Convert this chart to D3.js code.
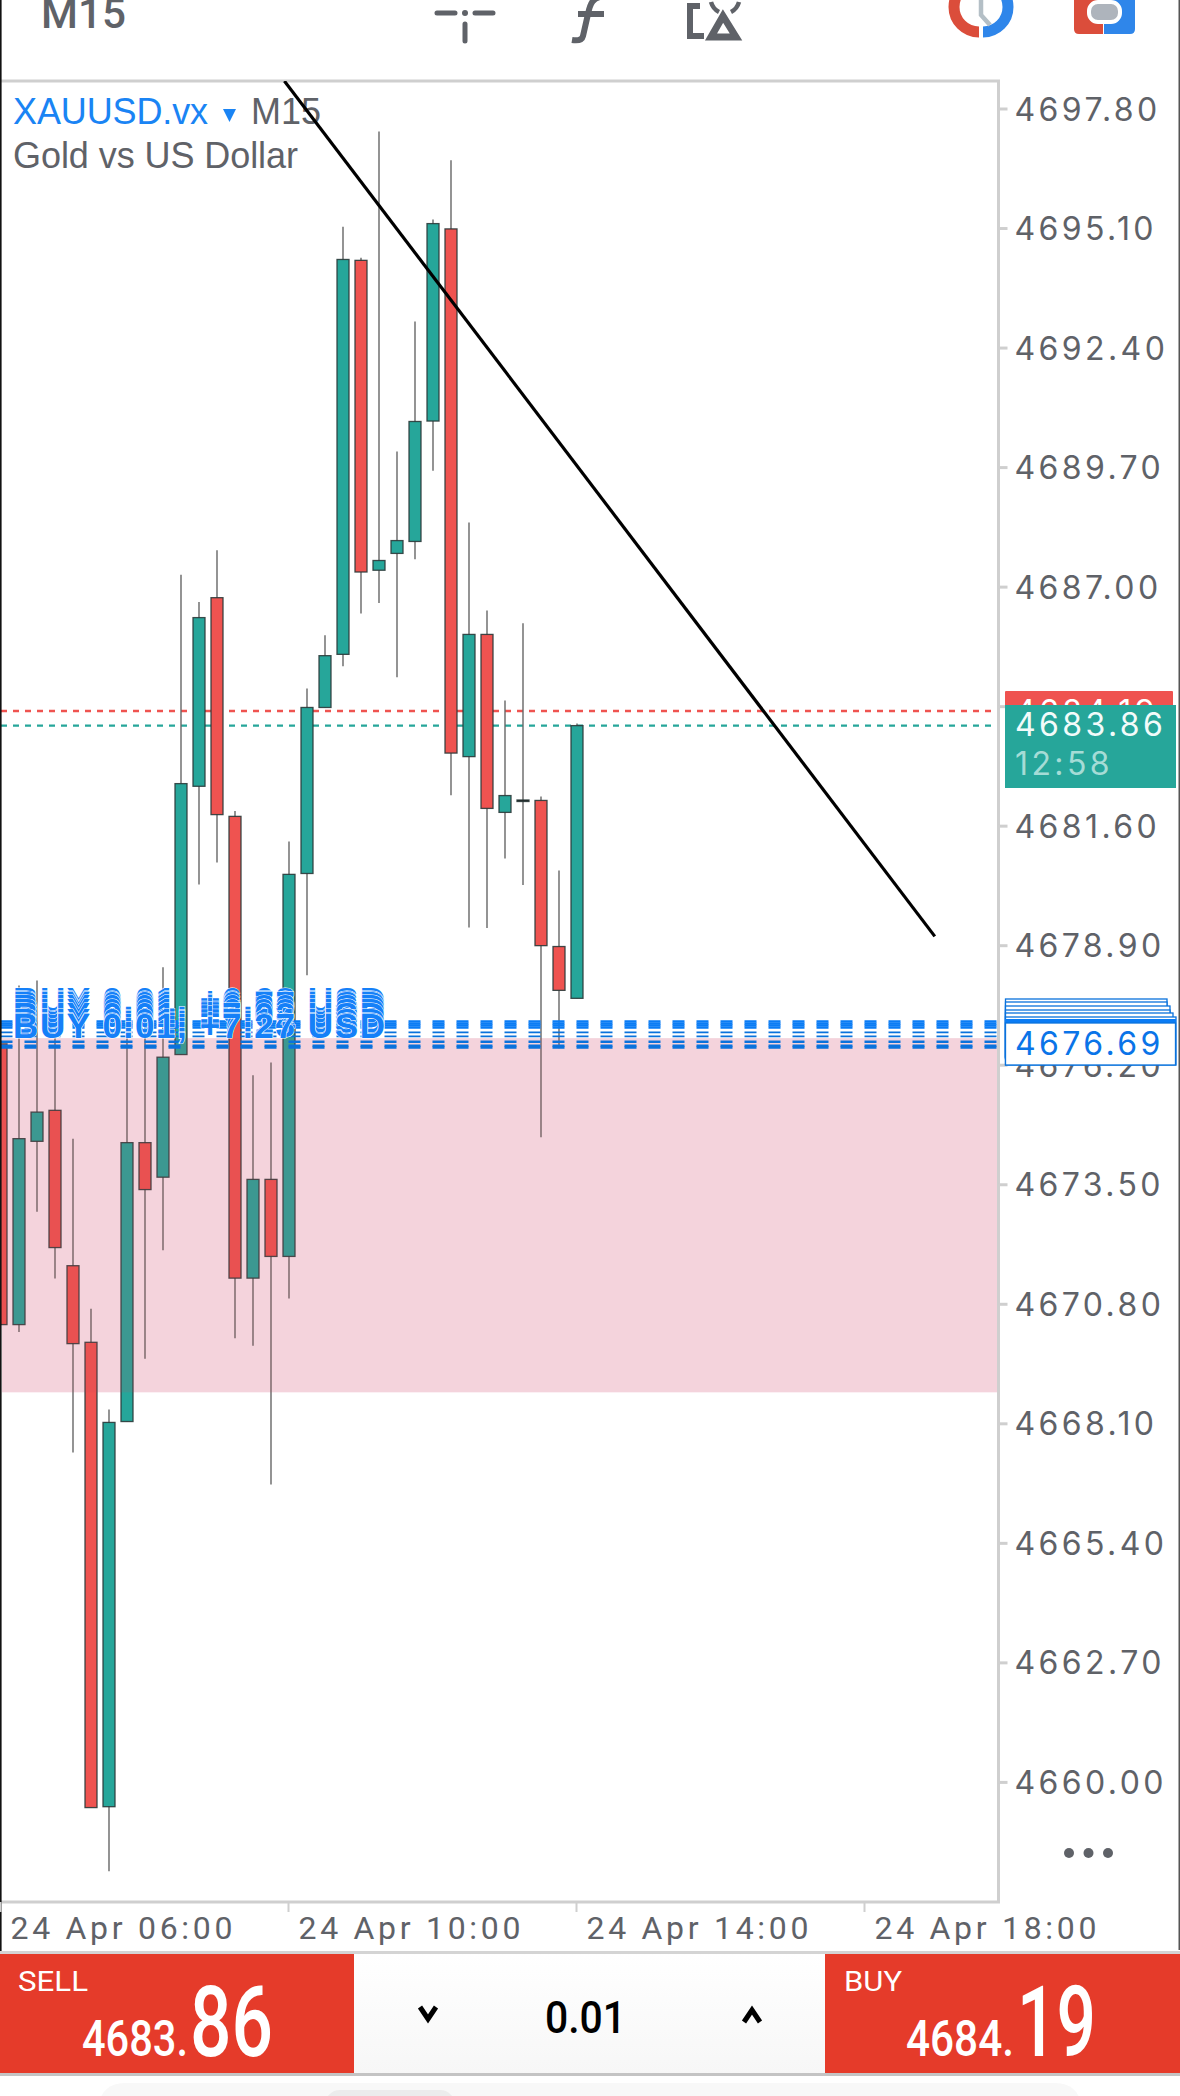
<!DOCTYPE html>
<html><head><meta charset="utf-8">
<script src="https://cdn.jsdelivr.net/npm/d3@7/dist/d3.min.js"></script>
<style>html,body{margin:0;padding:0;background:#fff;overflow:hidden}svg{display:block}</style>
</head><body><svg id="c" width="1180" height="2096"></svg>
<script>
const symbolName = "XAUUSD.vx", timeframe = "M15", description = "Gold vs US Dollar";
const priceTicks = [4697.8,4695.1,4692.4,4689.7,4687.0,4684.3,4681.6,4678.9,4676.2,4673.5,4670.8,4668.1,4665.4,4662.7,4660.0];
const timeTicks = ["2026-04-24T06:00Z","2026-04-24T10:00Z","2026-04-24T14:00Z","2026-04-24T18:00Z"];
const bid = 4683.86, ask = 4684.19, countdown = "12:58", lot = "0.01";
const zoneTop = 4676.80, zoneBottom = 4668.80;
const trendLine = [["2026-04-24T09:57Z",4698.42],["2026-04-24T18:59Z",4679.10]];
const candleOpen = [4676.67,4670.33,4674.47,4675.17,4671.66,4669.93,4659.44,4668.14,4674.44,4673.66,4676.43,4682.49,4686.75,4681.81,4671.38,4673.61,4671.87,4680.52,4684.27,4685.47,4694.37,4687.37,4687.75,4688.02,4690.74,4695.08,4683.16,4685.92,4681.90,4682.18,4682.17,4678.87,4677.70];
const candleHigh = [4676.67,4677.99,4678.10,4677.09,4674.53,4670.69,4668.41,4677.20,4677.09,4678.40,4687.27,4686.65,4687.82,4681.93,4675.96,4676.25,4681.24,4684.70,4685.90,4695.13,4694.43,4697.28,4690.05,4692.99,4695.29,4696.63,4688.45,4686.46,4684.43,4686.17,4682.26,4680.59,4683.91];
const candleLow = [4670.33,4670.16,4672.88,4671.37,4667.44,4659.42,4657.98,4668.14,4669.56,4672.01,4676.43,4680.27,4680.77,4670.02,4669.85,4666.72,4670.92,4678.22,4684.27,4685.20,4686.39,4686.63,4684.95,4687.62,4689.62,4682.29,4679.30,4679.29,4680.86,4680.26,4674.56,4676.57,4677.70];
const candleClose = [4670.33,4674.53,4675.13,4672.07,4669.90,4659.42,4668.12,4674.44,4673.38,4676.37,4682.55,4686.30,4681.85,4671.38,4673.61,4671.87,4680.50,4684.27,4685.44,4694.39,4687.33,4687.59,4688.04,4690.73,4695.20,4683.24,4685.92,4681.99,4682.28,4682.18,4678.89,4677.88,4683.86];
const orderPrices = [4677.18,4677.13,4677.09,4677.04,4676.93,4676.84,4676.72,4676.63,4676.59];
const orderProfits = ["+6.68","+6.73","+6.77","+6.82","+6.93","+7.02","+7.14","+7.23","+7.27"];
const firstCandle = "2026-04-24T06:00Z";

const GREEN="#26a69a", RED="#ef5350", BLUE="#0a7cf5", GRAY="#5f6268", FRAME="#cfcfcf";
const svg = d3.select("#c");
const parse = s => new Date(s);
const y = d3.scaleLinear().domain([4697.8,4660]).range([108.5,1781.9]);
const x = d3.scaleUtc().domain([parse(firstCandle), parse(timeTicks[3])]).range([0,864]);
const candleTime = candleOpen.map((_,i)=> d3.utcMinute.offset(parse(firstCandle), 15*i));
const cx = i => x(candleTime[i]) + 1;
const R = 998.5, T = 81, B = 1902;

svg.append("rect").attr("width",1180).attr("height",2096).attr("fill","#fff");
const defs = svg.append("defs");
defs.append("clipPath").attr("id","plot").append("rect").attr("x",0).attr("y",T).attr("width",R).attr("height",B-T);
const plot = svg.append("g").attr("clip-path","url(#plot)");

// bid / ask lines
[[ask,RED],[bid,GREEN]].forEach(([p,c])=>{
  plot.append("line").attr("x1",1).attr("x2",R).attr("y1",y(p)).attr("y2",y(p))
    .attr("stroke",c).attr("stroke-width",2.4).attr("stroke-dasharray","6 6");
});

// pink zone base, below the candles
plot.append("rect").attr("x",2).attr("width",R-2).attr("y",y(zoneTop)).attr("height",y(zoneBottom)-y(zoneTop))
  .attr("fill","#fceaf1");

// candles
const g = plot.selectAll("g.k").data(candleOpen.map((o,i)=>({i,o,h:candleHigh[i],l:candleLow[i],c:candleClose[i]}))).join("g").attr("class","k");
g.append("line").attr("x1",d=>cx(d.i)).attr("x2",d=>cx(d.i)).attr("y1",d=>y(d.h)).attr("y2",d=>y(d.l))
  .attr("stroke","#666").attr("stroke-width",1.4);
g.append("rect").attr("x",d=>cx(d.i)-6).attr("width",12)
  .attr("y",d=>y(Math.max(d.o,d.c))).attr("height",d=>Math.max(1.5,y(Math.min(d.o,d.c))-y(Math.max(d.o,d.c))))
  .attr("fill",d=>d.c>d.o?GREEN:(d.c<d.o?RED:"#111"))
  .attr("stroke","#2b3a3a").attr("stroke-opacity",.9).attr("stroke-width",1.3);

// pink zone veil, over the candles
plot.append("rect").attr("x",2).attr("width",R-2).attr("y",y(zoneTop)).attr("height",y(zoneBottom)-y(zoneTop))
  .attr("fill","#c84a5a").attr("fill-opacity",.14);

// order lines
plot.selectAll("line.o").data(orderPrices).join("line").attr("class","o")
  .attr("x1",0.5).attr("x2",R).attr("y1",d=>y(d)).attr("y2",d=>y(d))
  .attr("stroke",(d,i)=>i<4?BLUE:"#0a72dc").attr("stroke-width",(d,i)=>i<4?2.4:(i>5?2.6:1.6)).attr("stroke-dasharray","12 12");

// order labels
plot.selectAll("text.o").data(orderPrices).join("text").attr("class","o")
  .attr("x",13).attr("y",d=>y(d)-9).text((d,i)=>`BUY ${lot}, ${orderProfits[i]} USD`)
  .attr("font-family","Liberation Sans").attr("font-weight",700).attr("font-size",35).attr("fill","#1580f8")
  .attr("stroke","#fff").attr("stroke-width",1).attr("paint-order","stroke")
  .attr("textLength",372).attr("lengthAdjust","spacing");

// frame
svg.append("path").attr("d",`M0 ${T}H${R}V${B}H0`).attr("fill","none").attr("stroke",FRAME).attr("stroke-width",3);
svg.append("rect").attr("x",0).attr("y",0).attr("width",1.6).attr("height",2075).attr("fill","#111");
svg.append("rect").attr("x",1178.5).attr("y",0).attr("width",1.5).attr("height",1950).attr("fill","#555");

// price axis
const yAxis = d3.axisRight(y).tickValues(priceTicks).tickSize(9).tickPadding(7).tickFormat(d3.format(".2f"));
const ya = svg.append("g").attr("transform",`translate(${R},0)`).call(yAxis);
ya.select(".domain").remove();
ya.selectAll("line").attr("stroke",FRAME).attr("stroke-width",3);
ya.selectAll("text").attr("font-family","Inter").attr("font-size",32).attr("fill",GRAY)
  .attr("letter-spacing",3.4).attr("dy","0.36em");

// time axis
const xAxis = d3.axisBottom(x).tickValues(timeTicks.map(parse)).tickSize(10).tickPadding(0).tickFormat(d3.utcFormat("24 Apr %H:%M"));
const xa = svg.append("g").attr("transform",`translate(0,${B})`).call(xAxis);
xa.select(".domain").remove();
xa.selectAll("line").attr("stroke",FRAME).attr("stroke-width",2);
xa.selectAll("text").attr("font-family","Roboto").attr("font-size",32).attr("fill",GRAY)
  .attr("text-anchor","start").attr("x",10).attr("y",37).attr("dy",0)
  .attr("textLength",222).attr("lengthAdjust","spacing");

// right hand price tags
const tag = svg.append("g");
const tagFont = s => s.attr("font-family","Inter").attr("font-size",32).attr("letter-spacing",3.4);
tag.append("rect").attr("x",1005).attr("y",691).attr("width",168).attr("height",30).attr("fill",RED).attr("rx",1);
tag.append("text").attr("x",1015).attr("y",723).text(d3.format(".2f")(ask)).call(tagFont).attr("fill","#fff");
tag.append("rect").attr("x",1005).attr("y",705).attr("width",171).attr("height",83).attr("fill",GREEN);
tag.append("text").attr("x",1015).attr("y",736).text(d3.format(".2f")(bid)).call(tagFont).attr("fill","#f2fbfa");
tag.append("text").attr("x",1015).attr("y",775).text(countdown).call(tagFont).attr("fill","#a5dcd6");
const stack = [[999,1167,58],[1002,1167,55],[1006,1170,52],[1010,1170,48],[1013,1173,46],[1017,1176,48]];
stack.forEach(([t,r,h])=>{
  tag.append("rect").attr("x",1005.5).attr("y",t).attr("width",r-1005.5).attr("height",h).attr("fill","#fff").attr("stroke","#0a72dc").attr("stroke-width",1.3);
});
tag.append("rect").attr("x",1005).attr("y",1019).attr("width",171).attr("height",4).attr("fill",BLUE);
tag.append("rect").attr("x",1005.5).attr("y",1023).attr("width",170).attr("height",42).attr("fill","#fff").attr("stroke","#0a72dc").attr("stroke-width",1.3);
tag.append("text").attr("x",1015).attr("y",1055).text("4676.69").call(tagFont).attr("fill","#0a74e8");
[1069,1088.5,1108].forEach(c=>svg.append("circle").attr("cx",c).attr("cy",1853).attr("r",5).attr("fill",GRAY));

// legend
const lg = svg.append("g").attr("font-family","Liberation Sans");
lg.append("text").attr("x",13).attr("y",124).text(symbolName).attr("font-size",36).attr("fill","#1a84f4").attr("textLength",195);
lg.append("path").attr("d","M223 109H236L229.5 122Z").attr("fill","#1a84f4");
lg.append("text").attr("x",251).attr("y",124).text(timeframe).attr("font-size",36).attr("fill",GRAY).attr("textLength",70);
lg.append("text").attr("x",13).attr("y",168).text(description).attr("font-size",36).attr("fill",GRAY).attr("textLength",285);

// trend line, over the candles and the legend
svg.append("line").attr("x1",x(parse(trendLine[0][0]))).attr("y1",y(trendLine[0][1]))
  .attr("x2",x(parse(trendLine[1][0]))).attr("y2",y(trendLine[1][1]))
  .attr("stroke","#000").attr("stroke-width",3.2).attr("clip-path","url(#plot)");

// top toolbar
const tb = svg.append("g");
tb.append("text").attr("x",41).attr("y",28).text(timeframe).attr("font-family","Roboto").attr("font-weight",500).attr("font-size",42).attr("fill",GRAY).attr("textLength",85).attr("lengthAdjust","spacingAndGlyphs");
tb.append("path").attr("d","M437 13H455M475 13H493M465 24V41").attr("stroke",GRAY).attr("stroke-width",5).attr("stroke-linecap","round").attr("fill","none");
tb.append("circle").attr("cx",465).attr("cy",13).attr("r",3).attr("fill",GRAY);
tb.append("path").attr("d","M608 -4C592 -4 590 4 588 14L583 36C582 40 578 41 572 40M578 14H604").attr("stroke",GRAY).attr("stroke-width",6).attr("fill","none");
tb.append("path").attr("d","M700 6H690V36H704").attr("stroke",GRAY).attr("stroke-width",6).attr("fill","none");
tb.append("path").attr("d","M711 37L723 16L736 37Z").attr("stroke",GRAY).attr("stroke-width",7).attr("fill","none");
tb.append("path").attr("d","M711 2Q713 9 719 12M739 2Q737 9 731 12").attr("stroke",GRAY).attr("stroke-width",4.5).attr("fill","none");
tb.append("path").attr("d","M979 32A25 25 0 0 1 979 -18").attr("stroke","#db4d3b").attr("stroke-width",11).attr("fill","none");
tb.append("path").attr("d","M983 -18A25 25 0 0 1 983 32").attr("stroke","#2f86ea").attr("stroke-width",11).attr("fill","none");
tb.append("path").attr("d","M981 0V15L990 25").attr("stroke","#b4bfc6").attr("stroke-width",4.5).attr("fill","none");
tb.append("path").attr("d","M1074 -5H1103V34H1079Q1074 34 1074 29Z").attr("fill","#db4d3b");
tb.append("path").attr("d","M1104 -5H1135V29Q1135 34 1130 34H1104Z").attr("fill","#2f86ea");
tb.append("rect").attr("x",1089).attr("y",2).attr("width",31).attr("height",20).attr("rx",9).attr("fill","#aeb4bc").attr("stroke","#fff").attr("stroke-width",4);

// trade panel
const p = svg.append("g");
const grad = defs.append("linearGradient").attr("id","pg").attr("x1",0).attr("x2",0).attr("y1",0).attr("y2",1);
grad.append("stop").attr("offset",0).attr("stop-color","#fff");
grad.append("stop").attr("offset",1).attr("stop-color","#f7f7f7");
p.append("rect").attr("x",0).attr("y",1951).attr("width",1180).attr("height",3).attr("fill","#d4d4d4");
p.append("rect").attr("x",0).attr("y",1954).attr("width",1180).attr("height",119).attr("fill","url(#pg)");
p.append("rect").attr("x",0).attr("y",2073).attr("width",1180).attr("height",3).attr("fill","#c4c4c4");
p.append("rect").attr("x",0).attr("y",2076).attr("width",1180).attr("height",20).attr("fill","#fff");
p.append("rect").attr("x",100).attr("y",2083).attr("width",980).attr("height",40).attr("rx",24).attr("fill","#f8f8f8");
p.append("rect").attr("x",325).attr("y",2090).attr("width",130).attr("height",30).attr("rx",15).attr("fill","#ececec");
const RB="#e53b2a";
p.append("rect").attr("x",0).attr("y",1954).attr("width",354).attr("height",119).attr("fill",RB);
p.append("rect").attr("x",825).attr("y",1954).attr("width",355).attr("height",119).attr("fill",RB);
const fit=(t,xx,yy,size,len,fill,w)=>p.append("text").attr("x",xx).attr("y",yy).text(t).attr("font-family","Roboto").attr("font-weight",w||400).attr("font-size",size).attr("fill",fill).attr("textLength",len).attr("lengthAdjust","spacingAndGlyphs");
const [bi,bf]=bid.toFixed(2).split("."), [ai,af]=ask.toFixed(2).split(".");
fit("SELL",18,1991,27,70,"#fff");
fit(bi+".",82,2056,50,106,"#fff",500);
fit(bf,190,2056,98,83,"#fff",500);
fit("BUY",844,1991,27,58,"#fff");
fit(ai+".",906,2056,50,108,"#fff",500);
fit(af,1017,2056,98,79,"#fff",500);
fit(lot,545,2033,44,81,"#000",500);
p.append("path").attr("d","M420 2007L428 2019L436 2007").attr("stroke","#000").attr("stroke-width",5).attr("fill","none");
p.append("path").attr("d","M744 2022L752 2010L760 2022").attr("stroke","#000").attr("stroke-width",5).attr("fill","none");
</script></body></html>
